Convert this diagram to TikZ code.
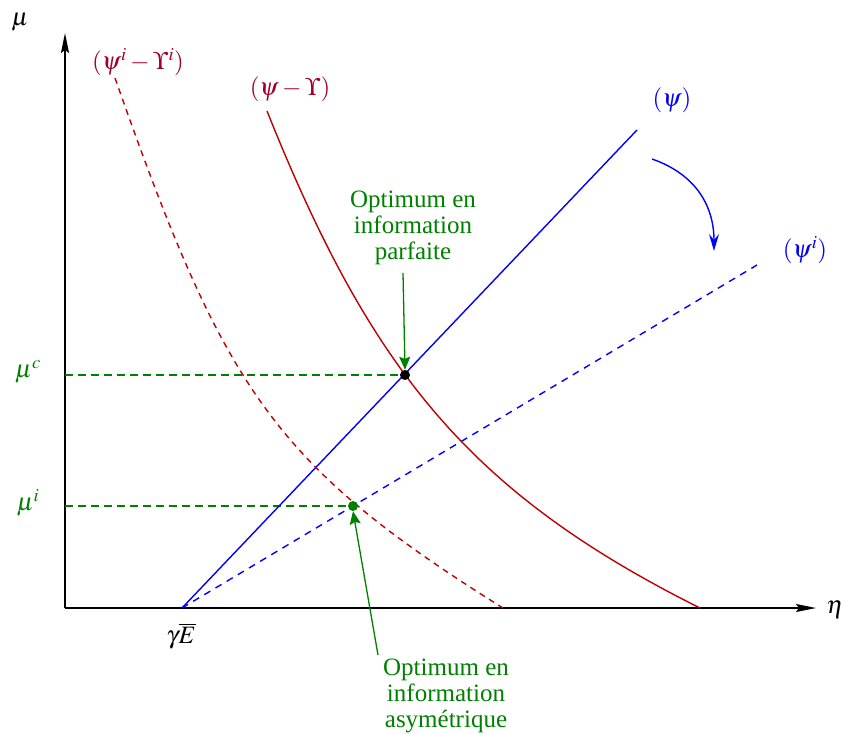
\documentclass[tikz,border=0pt]{standalone}
\usepackage{mathptmx}
\usepackage{fontspec}
\setmainfont{Liberation Serif}
\usetikzlibrary{arrows.meta}
\definecolor{cred}{RGB}{192,0,0}
\definecolor{clab}{RGB}{160,0,40}
\definecolor{cgreen}{RGB}{0,128,0}
\definecolor{cblue}{RGB}{0,0,255}
\tikzset{
  lbl/.style={inner sep=0pt, font=\fontsize{25}{26}\selectfont},
  note/.style={lbl, text=cgreen, align=center},
  axis/.style={line width=1.5pt, -{Stealth[length=20pt,width=8pt,inset=3pt]}},
  curve/.style={line width=1.4pt},
  reddash/.style={curve, cred, dash pattern=on 6pt off 5pt},
  bluedash/.style={curve, cblue, dash pattern=on 7pt off 6pt},
  guide/.style={line width=1.3pt, cgreen, dash pattern=on 8pt off 5pt},
  pointer/.style={line width=1.3pt, cgreen, -{Stealth[length=13pt,width=11pt,inset=2pt]}},
  dot/.style={circle, inner sep=0pt, minimum size=10pt},
}
\begin{document}
\begin{tikzpicture}[x=1pt,y=-1pt]
\useasboundingbox (0,0) rectangle (845,733);
% axes
\coordinate (O) at (65,608);
\coordinate (ytip) at (65,33);
\coordinate (xtip) at (816,608);
\draw[axis] (O) -- (ytip);
\draw[axis] (O) -- (xtip);
\node[lbl] (mu) at (20,22) {$\mu$};
\node[lbl] (eta) at (835,610) {$\eta$};
\coordinate (E) at (182,608);
\node[lbl] (gE) at (181,636) {$\gamma\overline{E}$};
% points
\coordinate (Pc) at (405,375);
\coordinate (Pi) at (353,506);
% green guides
\coordinate (Yc) at (65,375);
\coordinate (Yi) at (65,506);
\draw[guide] (Yc) -- (Pc);
\draw[guide] (Yi) -- (Pi);
\node[lbl, text=cgreen] (muc) at (28,372) {$\mu^{c}$};
\node[lbl, text=cgreen] (mui) at (28,503) {$\mu^{i}$};
% blue lines
\coordinate (Psi) at (637,130);
\coordinate (Psii) at (757,265);
\draw[curve, cblue] (E) -- (Psi);
\draw[bluedash] (E) -- (Psii);
\node[lbl, text=cblue] (psil) at (672,100) {$(\psi)$};
\node[lbl, text=cblue] (psiil) at (805,250) {$(\psi^{i})$};
% rotation arrow
\coordinate (r1) at (652,159);
\coordinate (r2) at (714,251);
\draw[curve, cblue, -{Stealth[length=17pt,width=10pt,inset=6pt]}] (r1) .. controls (695,174) and (714,205) .. (r2);
% red curves
\coordinate (s0) at (267,111);
\coordinate (s3) at (700,608);
\coordinate (d0) at (115,78);
\coordinate (d3) at (503,608);
\draw[curve, cred] (s0) .. controls (371,371) and (470,493) .. (s3);
\draw[reddash] (d0) .. controls (225,391) and (273,464) .. (d3);
\node[lbl, text=clab] (riL) at (138,62) {$(\psi^{i}-\Upsilon^{i})$};
\node[lbl, text=clab] (rL) at (290,89) {$(\psi-\Upsilon)$};
% dots
\node[dot, fill=black] (dc) at (Pc) {};
\node[dot, fill=cgreen] (di) at (Pi) {};
% notes
\node[note, anchor=north] (top) at (413,191) {Optimum en\\information\\parfaite};
\node[note, anchor=north] (bot) at (446,659) {Optimum en\\information\\asymétrique};
\coordinate (t1) at (403,273);
\coordinate (b1) at (378,655);
\draw[pointer] (t1) -- (dc.north);
\draw[pointer] (b1) -- (di.south);
\end{tikzpicture}
\end{document}
